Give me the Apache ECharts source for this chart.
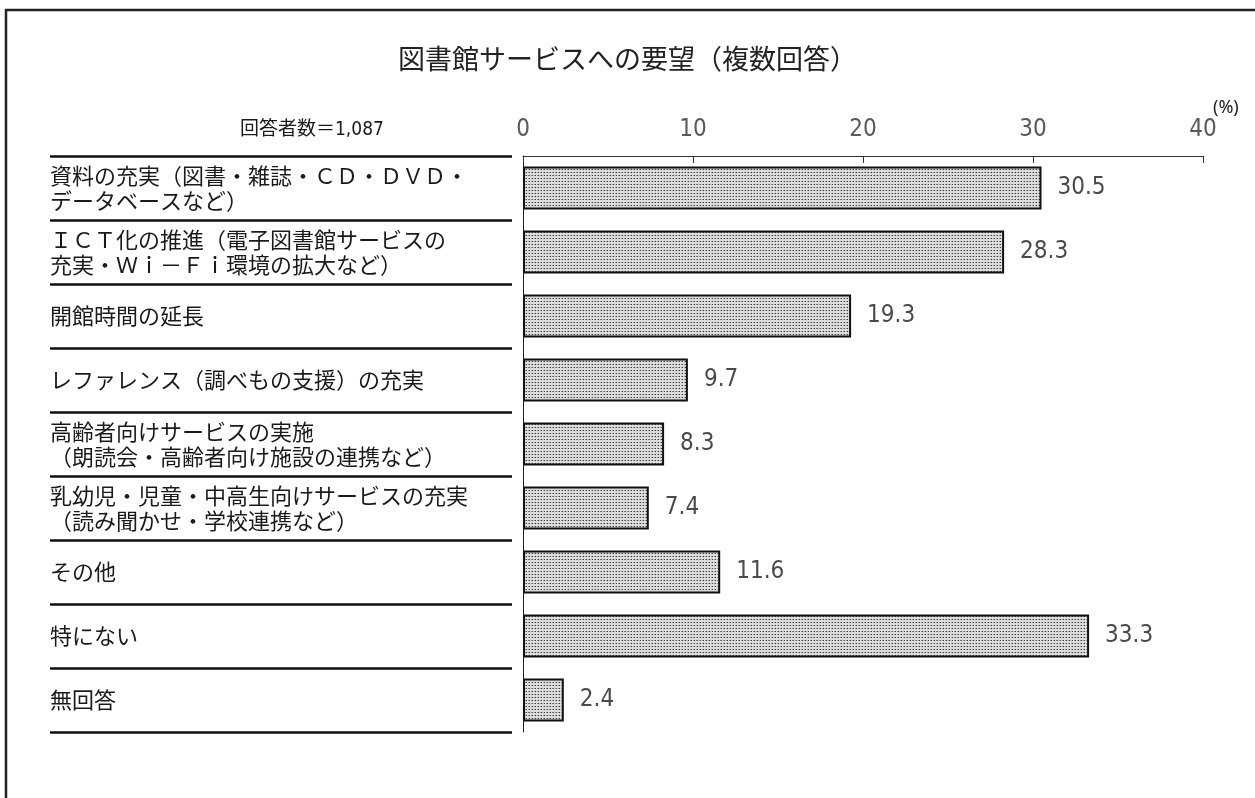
<!DOCTYPE html>
<html>
<head>
<meta charset="utf-8">
<script src="https://cdn.jsdelivr.net/npm/echarts@6/dist/echarts.min.js"></script>
<style>
html,body{margin:0;padding:0;background:#fff;}
#chart{width:1255px;height:798px;}
</style>
</head>
<body>
<div id="chart"></div>
<script>
const titleText = '図書館サービスへの要望（複数回答）';
const sampleText = '回答者数＝1,087';
const unitText = '(%)';
const categories = [
  '資料の充実（図書・雑誌・ＣＤ・ＤＶＤ・\nデータベースなど）',
  'ＩＣＴ化の推進（電子図書館サービスの\n充実・Ｗｉ－Ｆｉ環境の拡大など）',
  '開館時間の延長',
  'レファレンス（調べもの支援）の充実',
  '高齢者向けサービスの実施\n（朗読会・高齢者向け施設の連携など）',
  '乳幼児・児童・中高生向けサービスの充実\n（読み聞かせ・学校連携など）',
  'その他',
  '特にない',
  '無回答'
];
const values = [30.5, 28.3, 19.3, 9.7, 8.3, 7.4, 11.6, 33.3, 2.4];
const xTicks = [0, 10, 20, 30, 40];

const CJK = '"Noto Sans CJK JP", "Noto Sans", sans-serif';
const NARROW = '"DejaVu Sans Condensed", "Liberation Sans Narrow", "Noto Sans CJK JP", sans-serif';

// dot pattern for bars
const pc = document.createElement('canvas');
pc.width = 3; pc.height = 3;
const g = pc.getContext('2d');
g.fillStyle = '#dcdcdc'; g.fillRect(0, 0, 3, 3);
g.fillStyle = '#3a3a3a'; g.fillRect(1, 1, 1, 1);
g.fillStyle = '#9a9a9a'; g.fillRect(0, 1, 1, 1);

const chart = echarts.init(document.getElementById('chart'));
chart.setOption({
  animation: false,
  backgroundColor: '#fff',
  title: {
    text: titleText,
    left: 'center',
    top: 40,
    textStyle: { fontFamily: CJK, fontSize: 27, fontWeight: 'normal', color: '#222' }
  },
  grid: { left: 523, right: 52, top: 156, bottom: 66, containLabel: false },
  xAxis: {
    type: 'value',
    position: 'top',
    min: 0, max: 40, interval: 10,
    axisLine: { show: true, lineStyle: { color: '#333', width: 1 } },
    axisTick: { show: true, inside: true, length: 7, lineStyle: { color: '#333', width: 1 } },
    splitLine: { show: false },
    axisLabel: {
      margin: 14,
      color: '#5a5a5a',
      fontFamily: NARROW,
      fontSize: 24,
      formatter: v => xTicks.includes(v) ? String(v) : ''
    }
  },
  yAxis: [
    {
      type: 'category',
      inverse: true,
      data: categories,
      axisLine: { show: true, lineStyle: { color: '#222', width: 1 } },
      axisTick: { show: false },
      axisLabel: {
        align: 'left',
        margin: 473,
        formatter: v => v.split('\n').map(s => '{t|' + s + '}').join('\n'),
        rich: {
          t: { color: '#1a1a1a', fontFamily: CJK, fontSize: 22, lineHeight: 25, align: 'left' }
        }
      }
    },
    {
      type: 'category',
      inverse: true,
      position: 'left',
      offset: 11,
      data: categories,
      axisLine: { show: false },
      axisTick: { show: true, length: 462, lineStyle: { color: '#111', width: 2.5 },
        interval: 0 },
      axisLabel: { show: false }
    }
  ],
  series: [{
    type: 'bar',
    yAxisIndex: 0,
    data: values,
    barWidth: 43,
    itemStyle: {
      color: { image: pc, repeat: 'repeat' },
      borderColor: '#111',
      borderWidth: 2
    },
    label: {
      show: true,
      position: 'right',
      distance: 16,
      color: '#4a4a4a',
      fontFamily: NARROW,
      fontSize: 24,
      formatter: p => p.value.toFixed(1)
    }
  }],
  graphic: [
    { type: 'rect', shape: { x: 6, y: 10, width: 1300, height: 900 },
      style: { fill: 'none', stroke: '#222', lineWidth: 2.5 }, silent: true },
    { type: 'text', left: 240, top: 121,
      style: { text: sampleText, fontFamily: NARROW, fontSize: 19, fill: '#1a1a1a' } },
    { type: 'text', left: 1213, top: 99,
      style: { text: unitText, fontFamily: '"Noto Sans", sans-serif', fontSize: 18, fill: '#222' } }
  ]
});
</script>
</body>
</html>
